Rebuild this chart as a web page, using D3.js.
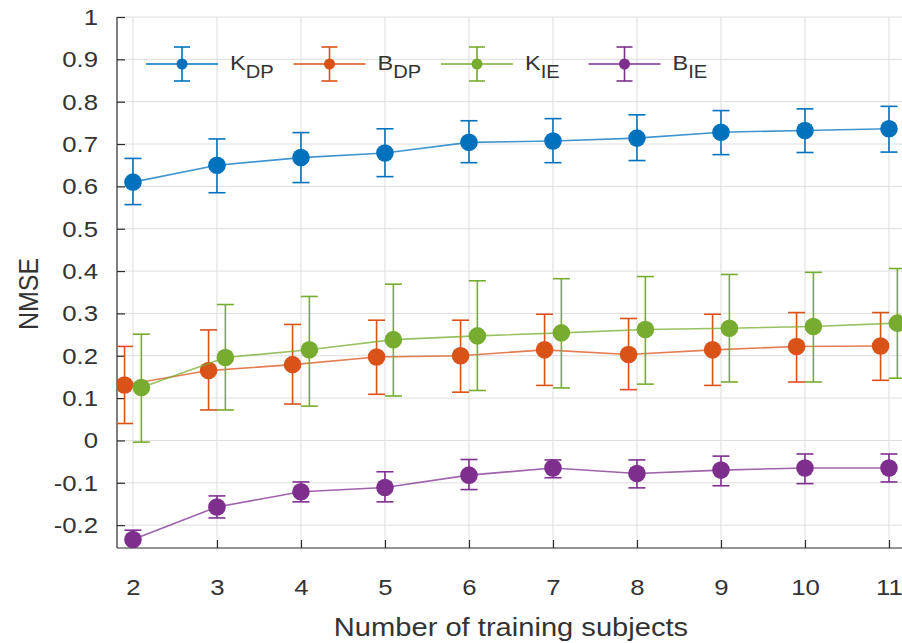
<!DOCTYPE html>
<html>
<head>
<meta charset="utf-8">
<style>
body { margin: 0; background: #fff; }
svg text { font-family: "Liberation Sans", Arial, sans-serif; fill: #333; }
.grid line { stroke: #dedede; stroke-width: 1; }
.axis path, .axis line { stroke: #2b2b2b; stroke-width: 1.2; }
.axis text { font-size: 23px; fill: #333; }
</style>
</head>
<body>
<svg width="902" height="643"></svg>
<script src="https://d3js.org/d3.v7.min.js"></script>
<script>
// training subjects
var subjects = [2, 3, 4, 5, 6, 7, 8, 9, 10, 11];

// mean / lower / upper for each series
var kdpMean = [0.610, 0.650, 0.668, 0.679, 0.704, 0.707, 0.714, 0.728, 0.732, 0.736];
var kdpLow  = [0.557, 0.585, 0.609, 0.623, 0.656, 0.656, 0.661, 0.675, 0.680, 0.681];
var kdpHigh = [0.666, 0.712, 0.727, 0.736, 0.755, 0.760, 0.769, 0.779, 0.783, 0.789];

var bdpMean = [0.131, 0.165, 0.179, 0.197, 0.200, 0.214, 0.203, 0.214, 0.222, 0.223];
var bdpLow  = [0.040, 0.072, 0.086, 0.109, 0.114, 0.130, 0.120, 0.130, 0.138, 0.142];
var bdpHigh = [0.222, 0.261, 0.274, 0.284, 0.284, 0.298, 0.288, 0.298, 0.302, 0.302];

var kieMean = [0.125, 0.196, 0.214, 0.238, 0.247, 0.254, 0.262, 0.265, 0.269, 0.277];
var kieLow  = [-0.004, 0.072, 0.081, 0.105, 0.118, 0.124, 0.133, 0.138, 0.138, 0.147];
var kieHigh = [0.251, 0.321, 0.340, 0.369, 0.377, 0.382, 0.387, 0.392, 0.397, 0.406];

var bieMean = [-0.234, -0.157, -0.121, -0.111, -0.082, -0.065, -0.078, -0.070, -0.065, -0.065];
var bieLow  = [-0.256, -0.183, -0.145, -0.145, -0.116, -0.088, -0.112, -0.107, -0.102, -0.098];
var bieHigh = [-0.212, -0.131, -0.098, -0.074, -0.045, -0.046, -0.046, -0.037, -0.032, -0.032];

var yTicks = [-0.2, -0.1, 0, 0.1, 0.2, 0.3, 0.4, 0.5, 0.6, 0.7, 0.8, 0.9, 1];
var yTickLabels = ["-0.2", "-0.1", "0", "0.1", "0.2", "0.3", "0.4", "0.5", "0.6", "0.7", "0.8", "0.9", "1"];

var series = [
  {main: "K", sub: "DP", color: "#0072BD", shift: 0,    mean: kdpMean, lo: kdpLow, hi: kdpHigh},
  {main: "B", sub: "DP", color: "#D95319", shift: -0.1, mean: bdpMean, lo: bdpLow, hi: bdpHigh},
  {main: "K", sub: "IE", color: "#77AC30", shift: 0.1,  mean: kieMean, lo: kieLow, hi: kieHigh},
  {main: "B", sub: "IE", color: "#7E2F8E", shift: 0,    mean: bieMean, lo: bieLow, hi: bieHigh}
];

var svg = d3.select("svg"),
    margin = {top: 17, right: 0, bottom: 95, left: 117},
    width = +svg.attr("width") - margin.left - margin.right,
    height = +svg.attr("height") - margin.top - margin.bottom;

var x = d3.scaleLinear().domain([1.81, 11.155]).range([0, width]);
var y = d3.scaleLinear().domain([-0.254, 1]).range([height, 0]);

var sx = 1.12; // text in the picture is a bit wide

var g = svg.append("g").attr("transform", "translate(" + margin.left + "," + margin.top + ")");

svg.append("defs").append("clipPath").attr("id", "clip")
  .append("rect").attr("x", 0).attr("y", -20).attr("width", width).attr("height", height + 20);

// grid
var grid = g.append("g").attr("class", "grid");
grid.selectAll(".gx").data(subjects).enter().append("line")
  .attr("x1", d => x(d)).attr("x2", d => x(d))
  .attr("y1", 0).attr("y2", height);
grid.selectAll(".gy").data(yTicks).enter().append("line")
  .attr("x1", 0).attr("x2", width)
  .attr("y1", d => y(d)).attr("y2", d => y(d));

// axes, ticks pointing inward like matlab
var gx = g.append("g").attr("class", "axis")
  .attr("transform", "translate(0," + height + ")")
  .call(d3.axisBottom(x).tickValues(subjects).tickSizeInner(-8).tickSizeOuter(0).tickFormat(d3.format("d")));
var gy = g.append("g").attr("class", "axis")
  .call(d3.axisLeft(y).tickValues(yTicks).tickSizeInner(-8).tickSizeOuter(0).tickPadding(19)
    .tickFormat((d, i) => yTickLabels[i]));
gx.select(".domain").attr("d", "M0,0H" + width);
gy.select(".domain").attr("d", "M0," + height + "V0");
gx.selectAll(".tick text").attr("y", 0).attr("dy", null)
  .attr("transform", "translate(0,47) scale(" + sx + ",1)");
gy.selectAll(".tick text").each(function() {
  var t = d3.select(this);
  t.attr("transform", "translate(" + t.attr("x") + ",0) scale(" + sx + ",1)").attr("x", 0);
});

// axis titles
svg.append("text")
  .attr("transform", "translate(" + (margin.left + x(6.5)) + ",636) scale(" + sx + ",1)")
  .attr("text-anchor", "middle").style("font-size", "26px")
  .text("Number of training subjects");
svg.append("text")
  .attr("transform", "translate(38,294) scale(" + sx + ",1) rotate(-90)")
  .attr("text-anchor", "middle").style("font-size", "25px")
  .text("NMSE");

// series
var plot = g.append("g").attr("clip-path", "url(#clip)");
var line = d3.line().x(d => x(d.x)).y(d => y(d.m));
var cap = 8.5, r = 8.8;

series.forEach(function(s) {
  var pts = subjects.map(function(v, i) {
    return {x: v + s.shift, m: s.mean[i], lo: s.lo[i], hi: s.hi[i]};
  });
  var sg = plot.append("g");
  sg.append("path").datum(pts)
    .attr("d", line).attr("fill", "none").attr("stroke", s.color)
    .attr("stroke-width", 1.6).attr("stroke-opacity", 0.75);
  var e = sg.selectAll(".err").data(pts).enter().append("g").attr("class", "err")
    .attr("stroke", s.color).attr("stroke-width", 1.6);
  e.append("line").attr("x1", d => x(d.x)).attr("x2", d => x(d.x)).attr("y1", d => y(d.lo)).attr("y2", d => y(d.hi));
  e.append("line").attr("x1", d => x(d.x) - cap).attr("x2", d => x(d.x) + cap).attr("y1", d => y(d.lo)).attr("y2", d => y(d.lo));
  e.append("line").attr("x1", d => x(d.x) - cap).attr("x2", d => x(d.x) + cap).attr("y1", d => y(d.hi)).attr("y2", d => y(d.hi));
  sg.selectAll("circle").data(pts).enter().append("circle")
    .attr("cx", d => x(d.x)).attr("cy", d => y(d.m)).attr("r", r).attr("fill", s.color);
});

// legend
var legend = svg.append("g").attr("transform", "translate(146,64)");
var item = legend.selectAll(".item").data(series).enter().append("g")
  .attr("transform", (d, i) => "translate(" + (i * 147.5) + ",0)");
item.append("line").attr("x1", 0).attr("x2", 72).attr("stroke", d => d.color).attr("stroke-width", 1.6);
item.append("line").attr("x1", 36).attr("x2", 36).attr("y1", -17).attr("y2", 17).attr("stroke", d => d.color).attr("stroke-width", 1.6);
item.append("line").attr("x1", 28).attr("x2", 44).attr("y1", -17).attr("y2", -17).attr("stroke", d => d.color).attr("stroke-width", 1.6);
item.append("line").attr("x1", 28).attr("x2", 44).attr("y1", 17).attr("y2", 17).attr("stroke", d => d.color).attr("stroke-width", 1.6);
item.append("circle").attr("cx", 36).attr("r", 5.5).attr("fill", d => d.color);
var lt = item.append("text").attr("transform", "translate(84,6) scale(" + sx + ",1)").style("font-size", "21px");
lt.append("tspan").text(d => d.main);
lt.append("tspan").attr("dy", 8).style("font-size", "18px").text(d => d.sub);
</script>
</body>
</html>
